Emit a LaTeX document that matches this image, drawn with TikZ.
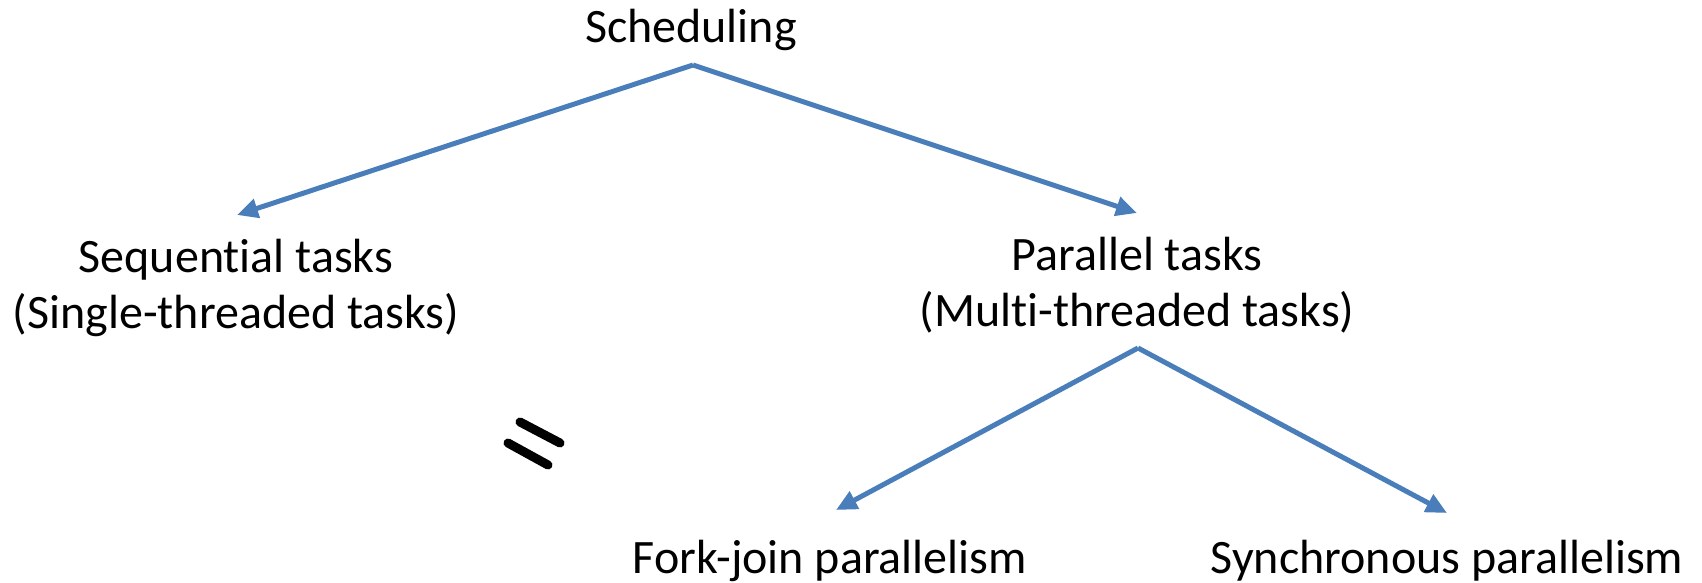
\documentclass[tikz,border=0pt]{standalone}
\usepackage{fontspec}
\setmainfont[RawFeature=-liga]{Carlito}
\usetikzlibrary{arrows.meta}
\definecolor{linkblue}{HTML}{4A7EBB}
\begin{document}
\begin{tikzpicture}[x=1pt,y=-1pt,
  label/.style={font=\fontsize{48}{56}\selectfont, align=center, inner sep=0pt},
  link/.style={draw=linkblue, line width=5pt, -{Triangle[length=21pt,width=19pt]}},
  eqbar/.style={draw=black, line width=9pt, line cap=round}]
\useasboundingbox (0,0) rectangle (1702,583);

% text labels
\node[label] (sched) at (691,30) {Scheduling};
\node[label] (seq) at (236,288) {Sequential tasks\\(Single-threaded tasks)};
\node[label] (par) at (1137,285) {Parallel tasks\\(Multi-threaded tasks)};
\node[label] (fork) at (830,561) {Fork-join parallelism};
\node[label] (sync) at (1447,561) {Synchronous parallelism};

% branching points and arrow tips
\coordinate (schedfork) at (693,65);
\coordinate (seqtip) at (237,215);
\coordinate (partip) at (1137,213);
\coordinate (parfork) at (1138,348);
\coordinate (forktip) at (836,510);
\coordinate (synctip) at (1447,513);

\draw[link] (schedfork) -- (seqtip);
\draw[link] (schedfork) -- (partip);
\draw[link] (parfork) -- (forktip);
\draw[link] (parfork) -- (synctip);

% equals sign between the two task kinds
\coordinate (eqa1) at (520,422);
\coordinate (eqa2) at (560,443);
\coordinate (eqb1) at (508,443);
\coordinate (eqb2) at (548,465);
\draw[eqbar] (eqa1) -- (eqa2);
\draw[eqbar] (eqb1) -- (eqb2);
\end{tikzpicture}
\end{document}
